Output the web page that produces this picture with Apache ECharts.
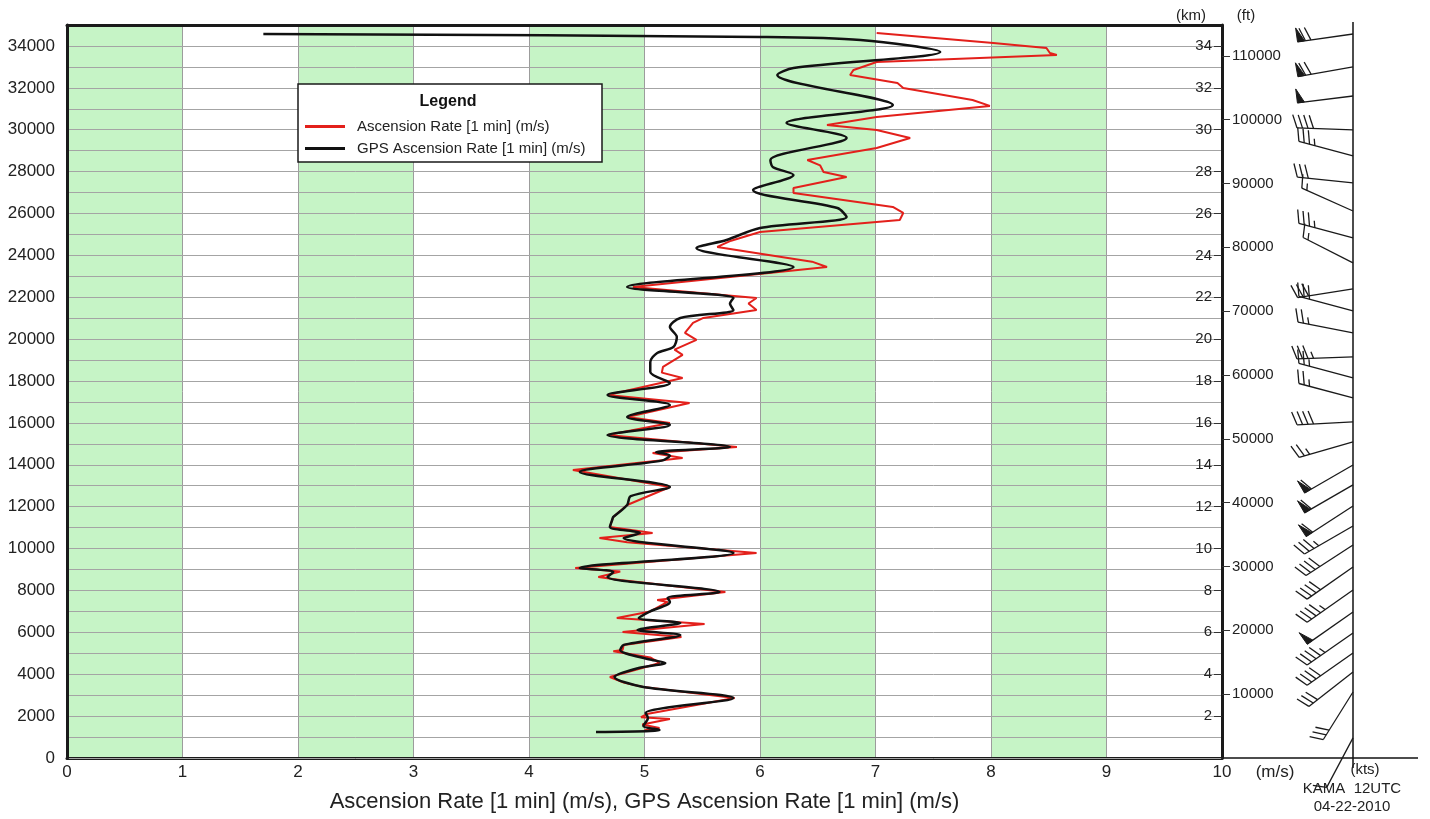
<!DOCTYPE html>
<html>
<head>
<meta charset="utf-8">
<script src="https://cdn.jsdelivr.net/npm/echarts@6/dist/echarts.min.js"></script>
<style>
  html, body { margin: 0; padding: 0; background: #fff; }
  #chart { width: 1430px; height: 819px; }
</style>
</head>
<body>
<div id="chart"></div>
<script>
// Sounding KAMA 12UTC 04-22-2010: balloon ascension rate vs. height (m)

// Ascension Rate [1 min] (m/s)
const ascAlt = [1330, 1433, 1600, 1862, 1950, 2100, 2865, 3390, 3600, 3868, 4300, 4537, 4800, 5100, 5157, 5400,
  5778, 6017, 6399, 6685, 7000, 7450, 7545, 7927, 8500, 8643, 8900, 9073, 9789, 10300, 10506, 10744,
  11031, 11365, 11508, 12082, 12941, 13753, 14326, 14564, 14851, 15424, 15997, 16284, 16953, 17334,
  18146, 18400, 18671, 19245, 19500, 19961, 20300, 20773, 21012, 21393, 21700, 21966, 22492, 23447,
  23700, 24402, 24700, 25118, 25691, 26026, 26312, 26981, 27219, 27745, 27984, 28300, 28556, 29129,
  29607, 29989, 30228, 30610, 31136, 31422, 31995, 32233, 32615, 32854, 33236, 33570, 33665, 33904,
  34143, 34620];
const ascRate = [5.00, 5.13, 4.98, 5.22, 4.97, 5.02, 5.78, 4.99, 4.82, 4.70, 4.98, 5.13, 5.05, 4.73, 4.81, 4.82,
  5.32, 4.81, 5.52, 4.76, 5.05, 5.20, 5.11, 5.70, 4.79, 4.60, 4.79, 4.40, 5.97, 4.85, 4.61, 5.07,
  4.70, 4.72, 4.73, 4.85, 5.22, 4.38, 5.33, 5.07, 5.80, 4.68, 5.22, 4.85, 5.39, 4.68,
  5.33, 5.15, 5.16, 5.33, 5.26, 5.45, 5.35, 5.42, 5.51, 5.97, 5.90, 5.97, 4.90, 6.58,
  6.45, 5.63, 5.75, 6.00, 7.21, 7.24, 7.15, 6.29, 6.29, 6.75, 6.55, 6.52, 6.41, 7.01,
  7.30, 7.01, 6.58, 7.01, 7.99, 7.84, 7.24, 7.19, 6.78, 6.81, 7.01, 8.57, 8.51, 8.48,
  8.02, 7.01];

// GPS Ascension Rate [1 min] (m/s)
const gpsAlt = [1242, 1290, 1340, 1530, 1910, 2150, 2865, 3390, 3868, 4300, 4537, 4700, 5157, 5400, 5874, 6112,
  6447, 6685, 7000, 7450, 7650, 7927, 8643, 8882, 9073, 9789, 10506, 10744, 11031, 11365, 11508, 12082,
  12500, 12941, 13657, 14200, 14450, 14600, 14851, 15424, 15902, 16284, 16857, 17334, 17907, 18432, 18910,
  19340, 19627, 20104, 20582, 21012, 21393, 21700, 21966, 22492, 23447, 24354, 24736, 25309, 25834, 26264,
  27124, 27840, 28222, 28556, 29607, 30323, 31183, 32615, 32950, 33713, 34286, 34430, 34574];
const gpsRate = [4.58, 5.05, 5.13, 4.99, 5.03, 5.01, 5.77, 4.99, 4.74, 4.95, 5.18, 5.05, 4.79, 4.82, 5.31, 4.94,
  5.31, 4.95, 5.05, 5.22, 5.20, 5.65, 4.68, 4.73, 4.44, 5.77, 4.82, 4.96, 4.70, 4.72, 4.73, 4.85,
  4.88, 5.22, 4.44, 5.15, 5.22, 5.10, 5.74, 4.68, 5.22, 4.85, 5.22, 4.68, 5.22, 5.05, 5.05,
  5.11, 5.25, 5.28, 5.22, 5.31, 5.77, 5.74, 5.77, 4.85, 6.29, 5.45, 5.71, 6.00, 6.75, 6.67,
  5.94, 6.29, 6.11, 6.09, 6.75, 6.23, 7.15, 6.15, 6.29, 7.56, 6.87, 6.00, 1.70];

// Tick labels
const altLabels = [0, 2000, 4000, 6000, 8000, 10000, 12000, 14000, 16000, 18000, 20000, 22000, 24000,
  26000, 28000, 30000, 32000, 34000];
const kmTicks = [2, 4, 6, 8, 10, 12, 14, 16, 18, 20, 22, 24, 26, 28, 30, 32, 34];
const ftTicks = [10000, 20000, 30000, 40000, 50000, 60000, 70000, 80000, 90000, 100000, 110000];

// Wind barbs: height (m), direction (deg), speed (kts)
const barbAlt = [34570, 33000, 31610, 29990, 28750, 27460, 26120, 24830, 23640, 22400, 21350, 20300, 19150,
  18150, 17190, 16050, 15090, 13990, 13040, 12030, 11080, 10170, 9120, 8020, 6970, 5970, 5010, 4110, 3150, 960];
const barbDir = [262, 260, 263, 272, 285, 276, 294, 285, 297, 261, 285, 281, 268,
  285, 285, 267, 254, 240, 240, 237, 240, 237, 235, 235, 235, 235, 235, 232, 212, 208];
const barbSpd = [70, 70, 50, 40, 35, 30, 15, 35, 15, 30, 30, 25, 35,
  25, 25, 40, 25, 60, 60, 60, 35, 40, 40, 45, 50, 45, 40, 30, 30, 10];

const FONT = "'Liberation Sans', Arial, sans-serif";
const TEXT = '#222';
const ALT_MAX = 35000;
const plain = v => String(v);

function barbItem(params, api) {
  const spd = api.value(0);
  const alt = api.value(1);
  const dir = api.value(2) * Math.PI / 180;
  const cs = params.coordSys;
  const ox = cs.x + cs.width;
  const oy = api.coord([0, alt])[1];
  const ux = Math.sin(dir), uy = -Math.cos(dir);
  const nx = -uy, ny = ux;
  const bx = 0.34 * ux + 0.94 * nx, by = 0.34 * uy + 0.94 * ny;
  const L = 56, B = 14;
  const tx = ox + ux * L, ty = oy + uy * L;
  const style = { stroke: '#1a1a1a', lineWidth: 1.3, fill: null };
  const children = [{ type: 'line', shape: { x1: ox, y1: oy, x2: tx, y2: ty }, style }];
  let s = Math.round(spd / 5) * 5;
  const pennants = Math.floor(s / 50); s -= pennants * 50;
  const full = Math.floor(s / 10); s -= full * 10;
  const half = s >= 5 ? 1 : 0;
  let pos = 0;
  for (let i = 0; i < pennants; i++) {
    const p0 = [tx - ux * pos, ty - uy * pos];
    const p1 = [tx - ux * (pos + 7), ty - uy * (pos + 7)];
    const apex = [p0[0] + nx * B, p0[1] + ny * B];
    children.push({ type: 'polygon', shape: { points: [p0, apex, p1] }, style: { fill: '#1a1a1a', stroke: '#1a1a1a', lineWidth: 1 } });
    pos += 8;
  }
  for (let i = 0; i < full; i++) {
    const px = tx - ux * pos, py = ty - uy * pos;
    children.push({ type: 'line', shape: { x1: px, y1: py, x2: px + bx * B, y2: py + by * B }, style });
    pos += 5.5;
  }
  if (half) {
    if (pos === 0) pos = 5.5;
    const px = tx - ux * pos, py = ty - uy * pos;
    children.push({ type: 'line', shape: { x1: px, y1: py, x2: px + bx * B / 2, y2: py + by * B / 2 }, style });
  }
  return { type: 'group', children };
}

const chart = echarts.init(document.getElementById('chart'), null, { renderer: 'canvas' });

chart.setOption({
  animation: false,
  backgroundColor: '#fff',
  textStyle: { fontFamily: FONT },
  grid: [
    { left: 67, right: 208, top: 25, bottom: 61 },
    { left: 1290, width: 63, top: 25, bottom: 61 }
  ],
  xAxis: [
    {
      type: 'value', gridIndex: 0, min: 0, max: 10, interval: 1, z: 0,
      name: 'Ascension Rate [1 min] (m/s), GPS Ascension Rate [1 min] (m/s)',
      nameLocation: 'middle', nameGap: 33,
      nameTextStyle: { fontSize: 22, color: TEXT, fontFamily: FONT },
      axisLine: { show: true, onZero: false, lineStyle: { color: '#1a1a1a', width: 3 } },
      axisTick: { show: false },
      axisLabel: { fontSize: 17, color: TEXT, margin: 6, fontFamily: FONT },
      splitLine: { show: true, lineStyle: { color: '#9c9c9c', width: 1 } },
      splitArea: { show: true, areaStyle: { color: ['#c6f4c6', '#ffffff'] } }
    },
    {
      type: 'value', gridIndex: 0, position: 'top', min: 0, max: 10, z: 3,
      axisLine: { show: true, onZero: false, lineStyle: { color: '#1a1a1a', width: 3 } },
      axisTick: { show: false }, axisLabel: { show: false }, splitLine: { show: false }
    },
    { type: 'value', gridIndex: 1, min: 0, max: 100, show: false }
  ],
  yAxis: [
    {
      type: 'value', gridIndex: 0, min: 0, max: ALT_MAX, interval: 1000, z: 1,
      axisLine: { show: true, onZero: false, lineStyle: { color: '#1a1a1a', width: 3 } },
      axisTick: { show: false },
      axisLabel: { customValues: altLabels, formatter: plain, fontSize: 17, color: TEXT, margin: 12, fontFamily: FONT },
      splitLine: { show: true, lineStyle: { color: '#a4a4a4', width: 1 } }
    },
    {
      type: 'value', gridIndex: 0, position: 'right', min: 0, max: ALT_MAX / 1000, z: 3,
      axisLine: { show: true, onZero: false, lineStyle: { color: '#1a1a1a', width: 3 } },
      axisTick: { show: true, inside: true, length: 8, customValues: kmTicks, lineStyle: { color: '#333' } },
      axisLabel: { inside: true, customValues: kmTicks, formatter: plain, fontSize: 15, color: TEXT, margin: 10, fontFamily: FONT },
      splitLine: { show: false }
    },
    {
      type: 'value', gridIndex: 0, position: 'right', min: 0, max: ALT_MAX / 0.3048, z: 3,
      axisLine: { show: false, onZero: false },
      axisTick: { show: true, length: 8, customValues: ftTicks, lineStyle: { color: '#333' } },
      axisLabel: { customValues: ftTicks, formatter: plain, fontSize: 15, color: TEXT, margin: 10, fontFamily: FONT },
      splitLine: { show: false }
    },
    { type: 'value', gridIndex: 1, min: 0, max: ALT_MAX, show: false }
  ],
  legend: {
    orient: 'vertical', left: 300, top: 113, z: 100,
    icon: 'rect', itemWidth: 40, itemHeight: 3, itemGap: 5,
    textStyle: { fontSize: 15, color: TEXT, fontFamily: FONT, padding: [0, 0, 0, 7], lineHeight: 17 },
    data: ['Ascension Rate [1 min] (m/s)', 'GPS Ascension Rate [1 min] (m/s)']
  },
  graphic: [
    { type: 'rect', z: 50, shape: { x: 298, y: 84, width: 304, height: 78 },
      style: { fill: '#fff', stroke: '#1a1a1a', lineWidth: 1.5 } },
    { type: 'text', z: 60, x: 448, y: 102,
      style: { text: 'Legend', font: "bold 16px " + FONT, fill: '#111', align: 'center', verticalAlign: 'middle' } },
    { type: 'text', x: 1191, y: 16,
      style: { text: '(km)', font: '15px ' + FONT, fill: TEXT, align: 'center', verticalAlign: 'middle' } },
    { type: 'text', x: 1246, y: 16,
      style: { text: '(ft)', font: '15px ' + FONT, fill: TEXT, align: 'center', verticalAlign: 'middle' } },
    { type: 'text', x: 1275, y: 772,
      style: { text: '(m/s)', font: '17px ' + FONT, fill: TEXT, align: 'center', verticalAlign: 'middle' } },
    { type: 'line', shape: { x1: 1353, y1: 22, x2: 1353, y2: 768 }, style: { stroke: '#111', lineWidth: 1.5 } },
    { type: 'line', shape: { x1: 1222, y1: 758, x2: 1418, y2: 758 }, style: { stroke: '#111', lineWidth: 1.3 } },
    { type: 'text', x: 1365, y: 770,
      style: { text: '(kts)', font: '15px ' + FONT, fill: TEXT, align: 'center', verticalAlign: 'middle' } },
    { type: 'text', x: 1352, y: 789,
      style: { text: 'KAMA  12UTC', font: '15px ' + FONT, fill: TEXT, align: 'center', verticalAlign: 'middle' } },
    { type: 'text', x: 1352, y: 807,
      style: { text: '04-22-2010', font: '15px ' + FONT, fill: TEXT, align: 'center', verticalAlign: 'middle' } }
  ],
  series: [
    {
      name: 'Ascension Rate [1 min] (m/s)', type: 'line', xAxisIndex: 0, yAxisIndex: 0,
      data: ascAlt.map((a, i) => [ascRate[i], a]),
      showSymbol: false, symbol: 'none', z: 2,
      itemStyle: { color: '#e3201b' },
      lineStyle: { color: '#e3201b', width: 2 }
    },
    {
      name: 'GPS Ascension Rate [1 min] (m/s)', type: 'line', xAxisIndex: 0, yAxisIndex: 0,
      data: gpsAlt.map((a, i) => [gpsRate[i], a]),
      showSymbol: false, symbol: 'none', z: 3,
      smooth: 0.3,
      itemStyle: { color: '#111111' },
      lineStyle: { color: '#111111', width: 2.5 }
    },
    {
      name: 'wind', type: 'custom', xAxisIndex: 2, yAxisIndex: 3, clip: false, silent: true,
      data: barbAlt.map((a, i) => [barbSpd[i], a, barbDir[i]]),
      encode: { x: 0, y: 1 },
      renderItem: barbItem
    }
  ]
});
</script>
</body>
</html>
